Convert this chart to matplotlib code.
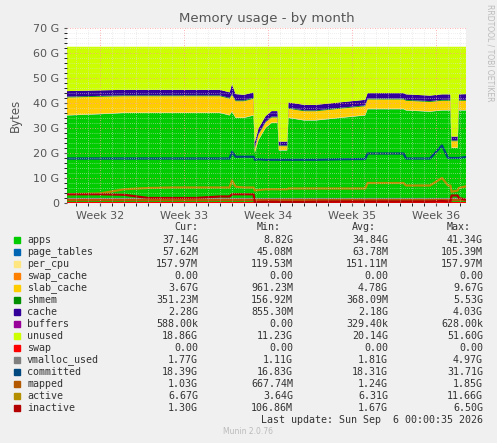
import numpy as np
import matplotlib
matplotlib.use("Agg")
import matplotlib.pyplot as plt

# time in days relative to start of Week 32
t = [-2.75, 0, 2, 4, 6, 8, 10, 10.8, 11.0, 11.3, 12.0, 12.8, 12.9, 13.2, 13.8, 14.3, 14.8, 14.9, 15.6, 15.7,
     17, 18, 20, 22.1, 22.3, 25.3, 25.5, 27.5, 28.5, 29.0, 29.2, 29.3, 29.8, 29.9, 30.5]
apps = [35, 35.5, 36, 36, 36, 36, 36, 35, 36.5, 34, 34, 35, 20, 25, 30, 32, 32, 21, 21, 34,
        33, 33, 34, 35, 37.5, 37.5, 37, 36.5, 37, 37, 37, 22, 22, 37, 37]
slab_cache = [7, 6.8, 6.5, 6.5, 6.5, 6.5, 6.5, 6.5, 6.5, 6.5, 6.5, 6.5, 1.5, 2, 2, 2, 2, 1.5, 1.5, 3.5,
              3.5, 3.5, 3.5, 3.5, 3.7, 3.7, 3.7, 3.7, 3.7, 3.7, 3.7, 2.5, 2.5, 3.7, 3.7]
cache = [2.2, 2.2, 2.2, 2.2, 2.2, 2.2, 2.2, 2.2, 4.0, 2.5, 2.2, 2.2, 2.2, 2.2, 2.2, 2.2, 2.2, 1.5, 1.5, 2.2,
         2.2, 2.2, 2.2, 2.2, 2.2, 2.2, 2.2, 2.2, 2.2, 2.2, 2.2, 1.5, 1.5, 2.2, 2.28]
committed = [17.8, 17.8, 17.8, 17.8, 17.8, 17.8, 17.8, 17.8, 20.5, 18.5, 18.5, 18.5, 17.3, 17.5, 17.3, 17.3, 17.3, 17.3, 17.3, 17.3,
             17.3, 17.3, 17.5, 17.6, 19.8, 19.8, 17.8, 17.8, 23, 18, 18, 18, 18, 18, 18.39]
active = [3.5, 3.8, 5.5, 6, 6.2, 6.2, 6.2, 6.2, 9.0, 6.5, 6.2, 6.2, 5.0, 5.2, 5.5, 5.5, 5.5, 5.5, 5.5, 5.8,
          5.8, 5.8, 5.8, 5.8, 8, 8, 7, 7, 10, 7, 7, 4.5, 5, 6, 6.67]
inactive = [3.5, 3.5, 3.3, 2.0, 2.0, 2.0, 2.6, 2.6, 3.5, 3.5, 3.5, 3.5, 0.3, 0.4, 0.5, 0.5, 0.5, 0.4, 0.4, 0.4,
            0.4, 0.5, 0.6, 0.6, 0.6, 0.6, 0.6, 0.6, 0.8, 0.6, 0.6, 3, 3, 2, 1.3]
vmalloc_used = [1.8] * len(t)
mapped = [1.1] * len(t)
page_tables = [0.06] * len(t)
per_cpu = [0.15] * len(t)
swap_cache = [0.0] * len(t)
shmem = [0.35] * len(t)
buffers = [0.0005] * len(t)
total_mem = 62.5
week_pos = [0, 7, 14, 21, 28]
week_labels = ["Week 32", "Week 33", "Week 34", "Week 35", "Week 36"]

legend_rows = [
    ("apps", "#00CC00", "37.14G", "8.82G", "34.84G", "41.34G"),
    ("page_tables", "#0066B3", "57.62M", "45.08M", "63.78M", "105.39M"),
    ("per_cpu", "#FFE680", "157.97M", "119.53M", "151.11M", "157.97M"),
    ("swap_cache", "#FF8000", "0.00", "0.00", "0.00", "0.00"),
    ("slab_cache", "#FFCC00", "3.67G", "961.23M", "4.78G", "9.67G"),
    ("shmem", "#008F00", "351.23M", "156.92M", "368.09M", "5.53G"),
    ("cache", "#330099", "2.28G", "855.30M", "2.18G", "4.03G"),
    ("buffers", "#990099", "588.00k", "0.00", "329.40k", "628.00k"),
    ("unused", "#CCFF00", "18.86G", "11.23G", "20.14G", "51.60G"),
    ("swap", "#FF0000", "0.00", "0.00", "0.00", "0.00"),
    ("vmalloc_used", "#808080", "1.77G", "1.11G", "1.81G", "4.97G"),
    ("committed", "#00487D", "18.39G", "16.83G", "18.31G", "31.71G"),
    ("mapped", "#B35A00", "1.03G", "667.74M", "1.24G", "1.85G"),
    ("active", "#B38F00", "6.67G", "3.64G", "6.31G", "11.66G"),
    ("inactive", "#B30000", "1.30G", "106.86M", "1.67G", "6.50G"),
]
col = {r[0]: r[1] for r in legend_rows}

fig = plt.figure(figsize=(4.97, 4.43), dpi=100, facecolor="#F0F0F0")
ax = fig.add_axes([67/497, 1-203/443, 399/497, 175/443])
ax.set_facecolor("white")

tt = np.array(t)
stack_names = ["apps", "page_tables", "per_cpu", "swap_cache", "slab_cache", "shmem", "cache", "buffers"]
stack_vals = [apps, page_tables, per_cpu, swap_cache, slab_cache, shmem, cache, buffers]
arrs = [np.array(v, float) for v in stack_vals]
unused = total_mem - sum(arrs)
arrs.append(unused)
stack_names.append("unused")
ax.stackplot(tt, *arrs, colors=[col[n] for n in stack_names], linewidth=0)

for name, vals in [("swap", [0]*len(t)), ("vmalloc_used", vmalloc_used), ("committed", committed),
                   ("mapped", mapped), ("active", active), ("inactive", inactive)]:
    ax.plot(tt, vals, color=col[name], lw=1.6)

ax.set_xlim(-2.75, 30.5)
ax.set_ylim(0, 70)
ax.set_yticks(range(0, 71, 10))
ax.set_yticklabels(["0"] + [f"{v} G" for v in range(10, 71, 10)])
ax.set_xticks(week_pos)
ax.set_xticklabels(week_labels)
ax.set_xticks(np.arange(-2, 31, 1), minor=True)
ax.set_yticks(np.arange(0, 71, 2), minor=True)
ax.grid(which="major", color="#FF9999", ls=(0, (1, 2)), lw=0.6)
ax.grid(which="minor", color="#DDDDDD", ls=(0, (1, 2)), lw=0.5)
ax.set_axisbelow(False)
ax.tick_params(labelsize=8, colors="#555555", length=2)
for s in ax.spines.values():
    s.set_visible(False)
ax.set_ylabel("Bytes", fontsize=8.5, color="#555555", labelpad=8)
ax.set_title("Memory usage - by month", fontsize=9.5, color="#555555", pad=4)
fig.text(0.985, 0.99, "RRDTOOL / TOBI OETIKER", rotation=270, fontsize=5.5, color="#BBBBBB", va="top", ha="center")

mono = "DejaVu Sans Mono"
fs = 7.2
def fy(py):
    return 1 - py/443
fig.text(198/497, fy(227), "Cur:", family=mono, fontsize=fs, ha="right", va="center", color="#333333")
fig.text(281/497, fy(227), "Min:", family=mono, fontsize=fs, ha="right", va="center", color="#333333")
fig.text(376/497, fy(227), "Avg:", family=mono, fontsize=fs, ha="right", va="center", color="#333333")
fig.text(471/497, fy(227), "Max:", family=mono, fontsize=fs, ha="right", va="center", color="#333333")
for i, (name, c, cur, mn, av, mx) in enumerate(legend_rows):
    y = 240 + i*12
    fig.patches.append(plt.Rectangle((14/497, fy(y+3)), 6/497, 6/443, transform=fig.transFigure, color=c))
    fig.text(27/497, fy(y), name, family=mono, fontsize=fs, va="center", color="#333333")
    for x, v in [(198, cur), (293, mn), (388, av), (483, mx)]:
        fig.text(x/497, fy(y), v, family=mono, fontsize=fs, ha="right", va="center", color="#333333")
fig.text(483/497, fy(420), "Last update: Sun Sep  6 00:00:35 2026", family=mono, fontsize=fs,
         ha="right", va="center", color="#333333")
fig.text(248/497, fy(432), "Munin 2.0.76", fontsize=5.5, ha="center", va="center", color="#BBBBBB")

fig.savefig("out.png", dpi=100, facecolor=fig.get_facecolor())
